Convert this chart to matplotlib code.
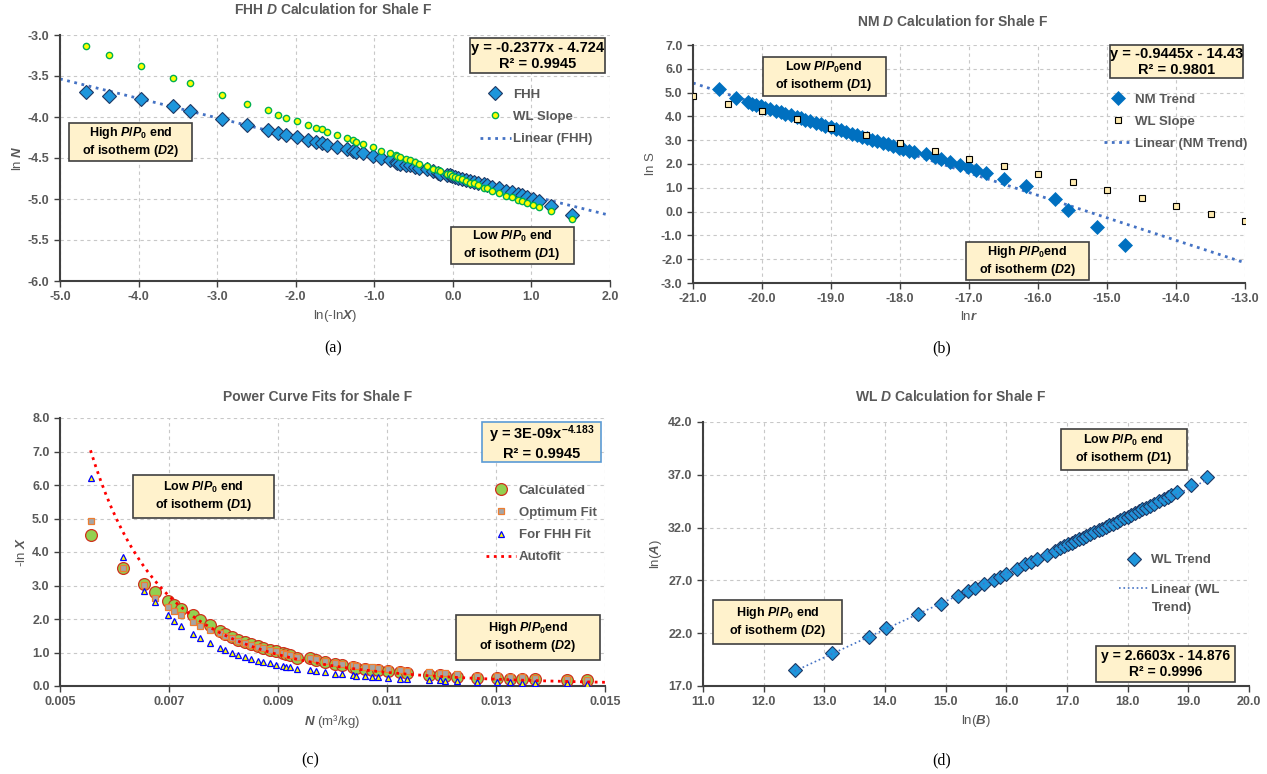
import numpy as np
import matplotlib
matplotlib.use("Agg")
import matplotlib.pyplot as plt
from matplotlib import font_manager
from matplotlib.patches import Rectangle
from matplotlib.ticker import FormatStrFormatter

# ---------------- data ----------------

# (a) FHH: ln(-lnX) vs lnN, plus the WL slope points on the same x values
fhh_x = [-4.67, -4.38, -3.97, -3.56, -3.35, -2.94, -2.62, -2.35, -2.22, -2.12,
         -1.98, -1.84, -1.74, -1.67, -1.60, -1.48, -1.35, -1.27, -1.23, -1.14,
         -1.02, -0.91, -0.80, -0.73, -0.71, -0.67, -0.60, -0.55, -0.48, -0.43,
         -0.33, -0.25, -0.19, -0.16, -0.08, -0.04, -0.01, 0.03, 0.07, 0.12,
         0.17, 0.22, 0.27, 0.32, 0.39, 0.44, 0.50, 0.59, 0.68, 0.75,
         0.83, 0.88, 0.94, 1.02, 1.10, 1.25, 1.51]
fhh_y = [-3.69, -3.74, -3.78, -3.87, -3.93, -4.03, -4.10, -4.16, -4.20, -4.22,
         -4.24, -4.28, -4.30, -4.32, -4.34, -4.36, -4.39, -4.41, -4.43, -4.44,
         -4.48, -4.50, -4.53, -4.55, -4.56, -4.57, -4.58, -4.59, -4.61, -4.62,
         -4.64, -4.66, -4.68, -4.69, -4.71, -4.71, -4.72, -4.73, -4.74, -4.75,
         -4.77, -4.78, -4.79, -4.80, -4.82, -4.83, -4.85, -4.87, -4.90, -4.92,
         -4.94, -4.95, -4.97, -5.00, -5.02, -5.08, -5.19]
wl_a_y = [-3.14, -3.24, -3.38, -3.52, -3.59, -3.73, -3.84, -3.92, -3.98, -4.01,
          -4.05, -4.10, -4.13, -4.15, -4.18, -4.22, -4.26, -4.28, -4.30, -4.33,
          -4.37, -4.41, -4.44, -4.46, -4.47, -4.49, -4.51, -4.53, -4.55, -4.57,
          -4.60, -4.63, -4.65, -4.66, -4.69, -4.70, -4.72, -4.73, -4.74, -4.76,
          -4.78, -4.80, -4.81, -4.83, -4.86, -4.87, -4.90, -4.93, -4.96, -4.98,
          -5.01, -5.03, -5.05, -5.07, -5.10, -5.15, -5.24]
fhh_slope, fhh_icpt = -0.2377, -4.724

# (b) NM: lnr vs lnS
nm_x = [-20.62, -20.37, -20.21, -20.15, -20.08, -20.02, -19.95, -19.88, -19.80, -19.73,
        -19.66, -19.58, -19.50, -19.44, -19.37, -19.30, -19.22, -19.15, -19.08, -19.00,
        -18.93, -18.86, -18.78, -18.70, -18.63, -18.55, -18.48, -18.40, -18.33, -18.25,
        -18.18, -18.10, -18.02, -17.95, -17.87, -17.80, -17.63, -17.50, -17.40, -17.28,
        -17.13, -17.02, -16.90, -16.76, -16.50, -16.18, -15.76, -15.57, -15.15, -14.74]
nm_y = [5.14, 4.79, 4.59, 4.54, 4.48, 4.43, 4.36, 4.30, 4.23, 4.17,
        4.11, 4.04, 3.97, 3.92, 3.86, 3.80, 3.73, 3.67, 3.61, 3.54,
        3.48, 3.42, 3.35, 3.28, 3.22, 3.15, 3.09, 3.02, 2.96, 2.89,
        2.83, 2.76, 2.69, 2.63, 2.56, 2.50, 2.40, 2.30, 2.20, 2.09,
        1.95, 1.87, 1.76, 1.63, 1.35, 1.06, 0.51, 0.06, -0.65, -1.39]
wl_b_x = [-21.0, -20.5, -20.0, -19.5, -19.0, -18.5, -18.0, -17.5, -17.0,
          -16.5, -16.0, -15.5, -15.0, -14.5, -14.0, -13.5, -13.0]
wl_b_y = [4.87, 4.54, 4.22, 3.87, 3.53, 3.21, 2.89, 2.55, 2.23,
          1.90, 1.56, 1.24, 0.90, 0.57, 0.23, -0.08, -0.41]
nm_slope, nm_icpt = -0.9445, -14.43

# (c) power curve fits: N vs -lnX
pc_n = [0.00556, 0.00615, 0.00655, 0.00675, 0.00698, 0.00709, 0.00722, 0.00744, 0.00757, 0.00775,
        0.00793, 0.00803, 0.00815, 0.00827, 0.00839, 0.00851, 0.00863, 0.00873, 0.00885, 0.00897,
        0.00909, 0.00915, 0.00922, 0.00935, 0.00958, 0.00970, 0.00987, 0.01005, 0.01018, 0.01037,
        0.01043, 0.01060, 0.01073, 0.01084, 0.01102, 0.01124, 0.01136, 0.01177, 0.01197, 0.01207,
        0.01229, 0.01266, 0.01302, 0.01325, 0.01348, 0.01372, 0.01431, 0.01467]
pc_calc = [4.51, 3.53, 3.04, 2.80, 2.55, 2.41, 2.29, 2.11, 1.97, 1.81,
           1.65, 1.55, 1.47, 1.38, 1.31, 1.25, 1.19, 1.13, 1.07, 1.03,
           0.99, 0.96, 0.92, 0.85, 0.83, 0.78, 0.72, 0.65, 0.62, 0.58,
           0.55, 0.51, 0.49, 0.48, 0.45, 0.42, 0.40, 0.34, 0.32, 0.31,
           0.28, 0.25, 0.23, 0.22, 0.21, 0.20, 0.18, 0.17]
pc_opt = [4.92, 3.53, 3.02, 2.62, 2.36, 2.23, 2.12, 1.90, 1.80, 1.68,
          1.57, 1.49, 1.42, 1.35, 1.28, 1.22, 1.17, 1.12, 1.07, 1.03,
          0.99, 0.96, 0.93, 0.88, 0.84, 0.80, 0.74, 0.70, 0.66, 0.62,
          0.60, 0.58, 0.56, 0.55, 0.52, 0.48, 0.46, 0.41, 0.40, 0.38,
          0.36, 0.31, 0.29, 0.27, 0.26, 0.24, 0.20, 0.19]
pc_fhh = [6.22, 3.84, 2.83, 2.50, 2.11, 1.95, 1.80, 1.54, 1.44, 1.28,
          1.13, 1.06, 1.00, 0.93, 0.87, 0.81, 0.76, 0.72, 0.68, 0.64,
          0.60, 0.58, 0.56, 0.52, 0.47, 0.44, 0.41, 0.37, 0.35, 0.32,
          0.31, 0.29, 0.27, 0.26, 0.24, 0.22, 0.21, 0.18, 0.17, 0.16,
          0.15, 0.13, 0.12, 0.11, 0.10, 0.10, 0.08, 0.07]
# Excel shows the prefactor rounded to 3E-09; the drawn curve matches ~2.6E-09
pw_coef, pw_exp = 2.6e-9, -4.183

# (d) WL: ln(B) vs ln(A)
wl_d_x = [12.51, 13.13, 13.73, 14.02, 14.55, 14.92, 15.21, 15.36, 15.49, 15.63,
          15.79, 15.89, 16.00, 16.17, 16.31, 16.41, 16.51, 16.67, 16.80, 16.88,
          16.95, 17.02, 17.08, 17.14, 17.20, 17.26, 17.32, 17.38, 17.45, 17.52,
          17.58, 17.64, 17.70, 17.76, 17.82, 17.88, 17.94, 18.00, 18.06, 18.12,
          18.18, 18.24, 18.30, 18.36, 18.44, 18.52, 18.60, 18.66, 18.72, 18.82,
          19.04, 19.30]
wl_d_y = [18.52, 20.09, 21.64, 22.49, 23.82, 24.80, 25.55, 25.96, 26.28, 26.66,
          27.04, 27.35, 27.64, 28.08, 28.52, 28.77, 29.00, 29.44, 29.82, 30.03,
          30.22, 30.41, 30.57, 30.73, 30.89, 31.05, 31.21, 31.37, 31.56, 31.74,
          31.90, 32.06, 32.22, 32.38, 32.54, 32.70, 32.87, 33.04, 33.21, 33.38,
          33.55, 33.72, 33.89, 34.06, 34.28, 34.50, 34.72, 34.89, 35.06, 35.40,
          36.00, 36.82]
wl_slope, wl_icpt = 2.6603, -14.876

# ---------------- styling ----------------

# the reference text looks like a condensed Arial; use Liberation Sans Narrow if present
names = {f.name for f in font_manager.fontManager.ttflist}
if 'Liberation Sans Narrow' in names:
    FONT, K = 'Liberation Sans Narrow', 1.2
else:
    FONT, K = 'Liberation Sans', 1.0

plt.rcParams['font.family'] = [FONT, 'Liberation Sans', 'DejaVu Sans']
plt.rcParams['font.weight'] = 'bold'
plt.rcParams['axes.unicode_minus'] = False
plt.rcParams['mathtext.fontset'] = 'custom'
plt.rcParams['mathtext.rm'] = FONT + ':bold'
plt.rcParams['mathtext.it'] = FONT + ':italic:bold'
plt.rcParams['mathtext.bf'] = FONT + ':bold'

GREY = '#595959'
BOXFILL = '#FFF2CC'
W, H = 1267, 774

fig = plt.figure(figsize=(W / 100, H / 100), dpi=100)


def add_axes(left, right, top, bottom):
    # pixel box -> figure fraction
    return fig.add_axes([left / W, 1 - bottom / H, (right - left) / W, (bottom - top) / H])


def style(ax, xticks, yticks, xfmt='%.1f', yfmt='%.1f'):
    for s in ['top', 'right']:
        ax.spines[s].set_visible(False)
    for s in ['left', 'bottom']:
        ax.spines[s].set_color('#404040')
        ax.spines[s].set_linewidth(1.5)
    ax.set_xlim(xticks[0], xticks[-1])
    ax.set_ylim(yticks[0], yticks[-1])
    ax.set_xticks(xticks)
    ax.set_yticks(yticks)
    ax.xaxis.set_major_formatter(FormatStrFormatter(xfmt))
    ax.yaxis.set_major_formatter(FormatStrFormatter(yfmt))
    ax.grid(True, linestyle=(0, (3, 3)), color='#C8C8C8', linewidth=0.8)
    ax.set_axisbelow(True)
    ax.tick_params(direction='out', length=4, width=1, colors='#404040',
                   labelcolor=GREY, labelsize=9 * K)


def note(ax, x0, x1, y0, y1, text, size=9, edge='#404040'):
    ax.add_patch(Rectangle((x0, y0), x1 - x0, y1 - y0, transform=ax.transAxes,
                           facecolor=BOXFILL, edgecolor=edge, linewidth=1.2,
                           zorder=5, clip_on=False))
    ax.text((x0 + x1) / 2, (y0 + y1) / 2, text, transform=ax.transAxes,
            ha='center', va='center', multialignment='center', fontsize=size * K,
            color='black', zorder=6, linespacing=1.2)


def legend(ax, handles, labels, x, y, hl=2.3, spacing=0.75):
    ax.legend(handles, labels, loc='upper left', bbox_to_anchor=(x, y), frameon=False,
              fontsize=9.5 * K, labelcolor=GREY, handlelength=hl / K, handletextpad=0.2,
              labelspacing=spacing, borderpad=0, borderaxespad=0, numpoints=1)


def label(ax, xl, yl):
    ax.set_xlabel(xl, fontsize=9.5 * K, color=GREY, labelpad=3)
    ax.set_ylabel(yl, fontsize=9.5 * K, color=GREY, labelpad=3)


def header(x, y, title, tag, tx, ty):
    fig.text(x / W, 1 - y / H, title, ha='center', va='center', fontsize=10 * K, color=GREY)
    fig.text(tx / W, 1 - ty / H, tag, ha='center', va='center', fontsize=11.5,
             family='Liberation Serif', weight='normal')


# ---------------- (a) FHH ----------------
ax = add_axes(60, 610, 35, 281)
style(ax, np.arange(-5, 2.01, 1), np.arange(-6, -2.99, 0.5))
xs = np.array([-5.0, 2.0])
ln_a, = ax.plot(xs, fhh_slope * xs + fhh_icpt, linestyle=':', color='#4472C4', lw=2,
                zorder=2)
p_a, = ax.plot(fhh_x, fhh_y, 'D', ms=7.5, mfc='#1E96DC', mec='#1F3864', mew=0.8, zorder=3)
p_w, = ax.plot(fhh_x, wl_a_y, 'o', ms=4.5, mfc='#FFFF00', mec='#00B050', mew=1, zorder=4)
label(ax, 'ln(-ln$X$)', 'ln $N$')
legend(ax, [p_a, p_w, ln_a], ['FHH', 'WL Slope', 'Linear (FHH)'], 0.764, 0.782)
note(ax, 0.745, 0.991, 0.844, 0.986, 'y = -0.2377x - 4.724\nR² = 0.9945', size=10.5)
note(ax, 0.017, 0.240, 0.486, 0.641, 'High $P/P_0$ end\nof isotherm ($D2$)')
note(ax, 0.710, 0.934, 0.068, 0.221, 'Low $P/P_0$ end\nof isotherm ($D1$)')
header(333, 10, 'FHH $D$ Calculation for Shale F', '(a)', 333, 348)

# ---------------- (b) NM ----------------
ax = add_axes(693, 1245, 45, 283)
style(ax, np.arange(-21, -12.99, 1), np.arange(-3, 7.01, 1))
xs = np.array([-21.0, -13.0])
ln_b, = ax.plot(xs, nm_slope * xs + nm_icpt, linestyle=':', color='#4472C4', lw=2, zorder=2)
p_nm, = ax.plot(nm_x, nm_y, 'D', ms=7.5, mfc='#0070C0', mec='#0070C0', mew=0.5, zorder=3)
p_wl, = ax.plot(wl_b_x, wl_b_y, 's', ms=4.5, mfc='#FFEBB0', mec='black', mew=0.8, zorder=4)
label(ax, 'ln$r$', 'ln S')
legend(ax, [p_nm, p_wl, ln_b], ['NM Trend', 'WL Slope', 'Linear (NM Trend)'],
       0.744, 0.796, hl=2.2)
note(ax, 0.756, 0.997, 0.860, 1.0, 'y = -0.9445x - 14.43\nR² = 0.9801', size=10.5)
note(ax, 0.126, 0.349, 0.786, 0.948, 'Low $P/P_0$end\nof isotherm ($D1$)')
note(ax, 0.494, 0.717, 0.011, 0.172, 'High $P/P_0$end\nof isotherm ($D2$)')
header(953, 22, 'NM $D$ Calculation for Shale F', '(b)', 942, 348)

# ---------------- (c) power curves ----------------
ax = add_axes(60, 605, 418, 686)
style(ax, np.arange(0.005, 0.01501, 0.002), np.arange(0, 8.01, 1), xfmt='%.3f')
p_c, = ax.plot(pc_n, pc_calc, 'o', ms=8.5, mfc='#92D050', mec='#D0301C', mew=0.9, zorder=3)
p_o, = ax.plot(pc_n, pc_opt, 's', ms=5, mfc='#A5A5A5', mec='#ED7D31', mew=0.9, zorder=4)
p_f, = ax.plot(pc_n, pc_fhh, '^', ms=4.5, mfc='#FFFF00', mec='#0000FF', mew=0.9, zorder=5)
ns = np.linspace(min(pc_n), 0.015, 200)
p_fit, = ax.plot(ns, pw_coef * ns ** pw_exp, linestyle=':', color='#FF0000', lw=2, zorder=6)
label(ax, '$N$ (m³/kg)', '-ln $X$')
legend(ax, [p_c, p_o, p_f, p_fit], ['Calculated', 'Optimum Fit', 'For FHH Fit', 'Autofit'],
       0.781, 0.751)
note(ax, 0.775, 0.992, 0.834, 0.984, 'y = 3E-09x$^{-4.183}$\nR² = 0.9945', size=10.5,
     edge='#5B9BD5')
note(ax, 0.134, 0.392, 0.627, 0.789, 'Low $P/P_0$ end\nof isotherm ($D1$)')
note(ax, 0.726, 0.990, 0.097, 0.266, 'High $P/P_0$end\nof isotherm ($D2$)')
header(318, 397, 'Power Curve Fits for Shale F', '(c)', 310, 760)

# ---------------- (d) WL ----------------
ax = add_axes(703, 1249, 422, 686)
style(ax, np.arange(11, 20.01, 1), np.arange(17, 42.01, 5))
p_d, = ax.plot(wl_d_x, wl_d_y, 'D', ms=7.5, mfc='#1E96DC', mec='#1F3864', mew=0.8, zorder=3)
xs = np.array([min(wl_d_x), max(wl_d_x)])
ln_d, = ax.plot(xs, wl_slope * xs + wl_icpt, linestyle=':', color='#4472C4', lw=1.2, zorder=4)
label(ax, 'ln($B$)', 'ln($A$)')
legend(ax, [p_d, ln_d], ['WL Trend', 'Linear (WL'], 0.761, 0.50, spacing=1.3)
ax.text(0.823, 0.294, 'Trend)', transform=ax.transAxes, ha='left', va='center',
        fontsize=9.5 * K, color=GREY)
note(ax, 0.655, 0.886, 0.817, 0.975, 'Low $P/P_0$ end\nof isotherm ($D1$)')
note(ax, 0.019, 0.254, 0.159, 0.325, 'High $P/P_0$ end\nof isotherm ($D2$)')
note(ax, 0.720, 0.974, 0.015, 0.153, 'y = 2.6603x - 14.876\nR² = 0.9996', size=10)
header(951, 397, 'WL $D$ Calculation for Shale F', '(d)', 942, 760)

fig.savefig('out.png', dpi=100)
